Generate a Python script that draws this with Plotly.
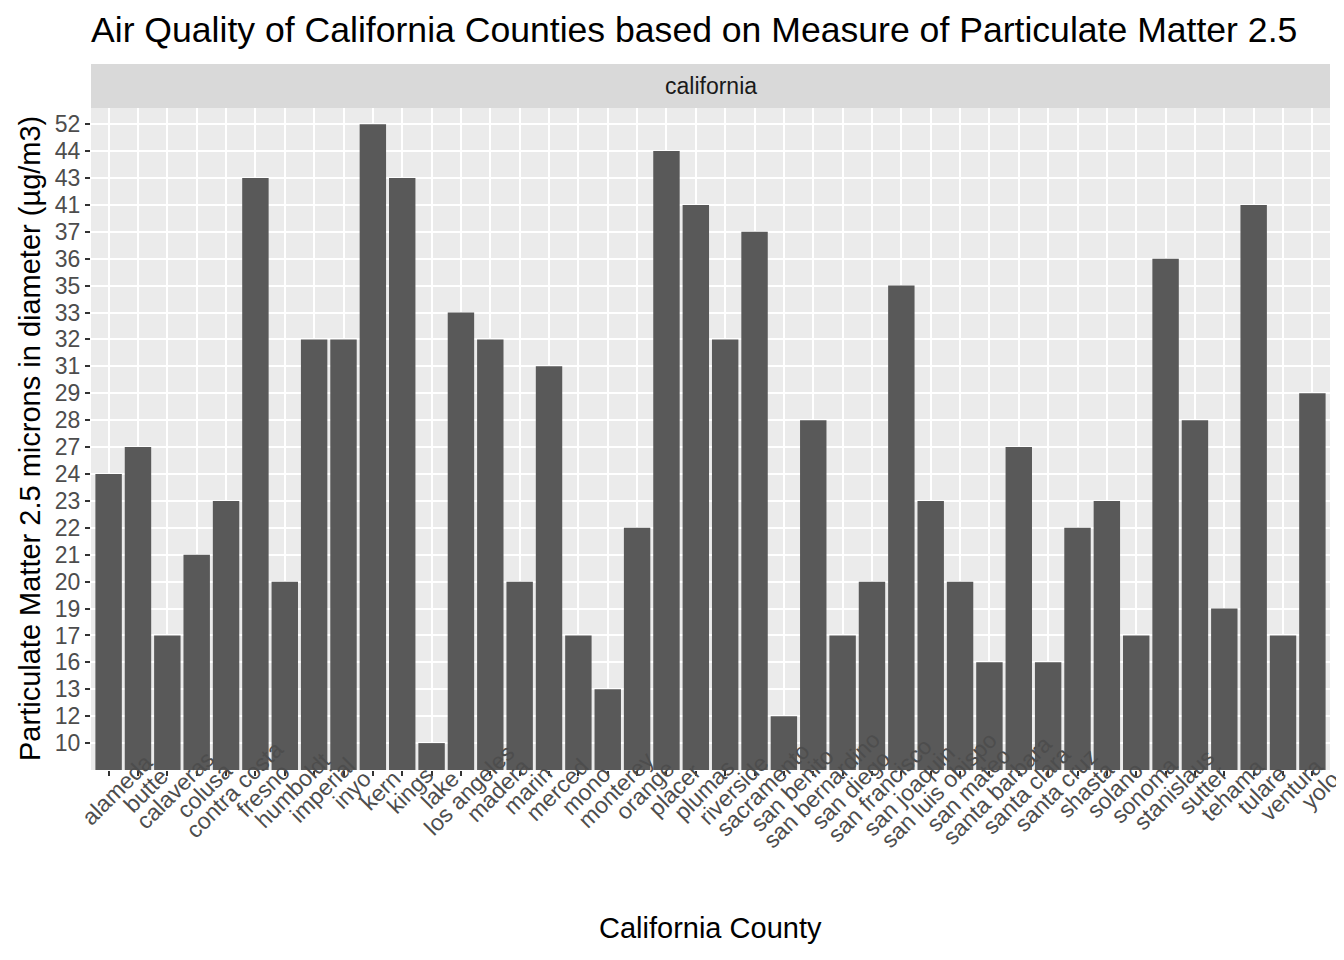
import plotly.graph_objects as go

counties = ["alameda", "butte", "calaveras", "colusa", "contra costa", "fresno", "humboldt",
            "imperial", "inyo", "kern", "kings", "lake", "los angeles", "madera", "marin",
            "merced", "mono", "monterey", "orange", "placer", "plumas", "riverside",
            "sacramento", "san benito", "san bernardino", "san diego", "san francisco",
            "san joaquin", "san luis obispo", "san mateo", "santa barbara", "santa clara",
            "santa cruz", "shasta", "solano", "sonoma", "stanislaus", "sutter", "tehama",
            "tulare", "ventura", "yolo"]
pm25 = [24, 27, 17, 21, 23, 43, 20, 32, 32, 52, 43, 10, 33, 32, 20, 31, 17, 13, 22, 44, 41, 32,
        37, 12, 28, 17, 20, 35, 23, 20, 16, 27, 16, 22, 23, 17, 36, 28, 19, 41, 17, 29]

# ggplot treated the values as a discrete scale (sorted levels)
levels = sorted(set(pm25))
level_pos = [levels.index(v) + 1 for v in pm25]

FONT = "Liberation Sans"
OFF = 8  # page body margin
W, H = 1344 - OFF, 960 - OFF
ML, MR = 91 - OFF, 14
MT = 64 - OFF
MB = H - (770 - OFF)
plot_h = H - MT - MB
panel_top_px = 108 - OFF
dom_top = (H - MB - panel_top_px) / plot_h
plot_w = W - ML - MR

fig = go.Figure(go.Bar(
    x=counties, y=level_pos, marker=dict(color="#595959", line=dict(width=0)),
    width=0.9, hoverinfo="x+text", text=[str(v) for v in pm25], textposition="none",
))

# x tick labels: rotated 45°, centred on the tick (ggplot style, overlapping the panel)
xlabels = [dict(text=c, xref="x", yref="paper", x=c, y=0, showarrow=False,
                textangle=-45, xanchor="center", yanchor="middle", xshift=8, yshift=-20,
                font=dict(size=23, color="#4D4D4D", family=FONT)) for c in counties]

fig.update_layout(
    width=W, height=H,
    margin=dict(l=ML, r=MR, t=MT, b=MB),
    paper_bgcolor="white", plot_bgcolor="#EBEBEB",
    font=dict(family=FONT, color="#000000"),
    showlegend=False,
    title=dict(text="Air Quality of California Counties based on Measure of Particulate Matter 2.5",
               x=0, xref="paper", xanchor="left", y=1 - (30 - OFF) / H, yref="container",
               yanchor="middle", font=dict(size=35.6, family=FONT, color="black")),
    bargap=0.1,
    xaxis=dict(type="category", range=[-0.6, len(counties) - 0.4], showgrid=True,
               gridcolor="white", gridwidth=2, ticks="outside", ticklen=5, tickwidth=2,
               tickcolor="#333333", showticklabels=False, zeroline=False, automargin=False),
    yaxis=dict(range=[0, len(levels) + 0.6], tickmode="array",
               tickvals=list(range(1, len(levels) + 1)), ticktext=[str(v) for v in levels],
               showgrid=True, gridcolor="white", gridwidth=2, ticks="outside", ticklen=5,
               tickwidth=2, tickcolor="#333333", zeroline=False, domain=[0, dom_top],
               tickfont=dict(size=23, color="#4D4D4D", family=FONT), automargin=False),
    shapes=[dict(type="rect", xref="paper", yref="paper", x0=0, x1=1, y0=dom_top, y1=1,
                 fillcolor="#D9D9D9", line=dict(width=0), layer="below")],
    annotations=xlabels + [
        dict(text="california", xref="paper", yref="paper", x=0.5, y=(dom_top + 1) / 2,
             showarrow=False, xanchor="center", yanchor="middle",
             font=dict(size=23, color="#1A1A1A", family=FONT)),
        dict(text="California County", xref="paper", yref="paper", x=0.5,
             y=(H - MB - (928 - OFF)) / plot_h, showarrow=False, xanchor="center",
             yanchor="middle", font=dict(size=29, color="black", family=FONT)),
        dict(text="Particulate Matter 2.5 microns in diameter (µg/m3)", xref="paper",
             yref="paper", x=(30 - OFF - ML) / plot_w, y=(H - MB - (439 - OFF)) / plot_h,
             showarrow=False, textangle=-90, xanchor="center", yanchor="middle",
             font=dict(size=29, color="black", family=FONT)),
    ],
)

fig.write_html("out.html")
